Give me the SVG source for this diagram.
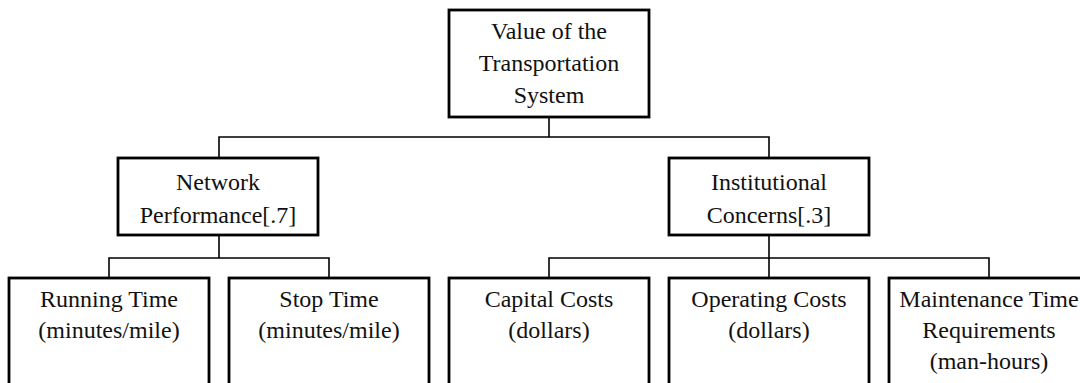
<svg xmlns="http://www.w3.org/2000/svg" width="1080" height="383" viewBox="0 0 1080 383">
  <style>
    .box { fill: #fff; stroke: #000; stroke-width: 2.8; }
    .wire { fill: none; stroke: #000; stroke-width: 1.6; }
    text { font-family: "Liberation Serif", "Times New Roman", serif; font-size: 24px; fill: #111; text-anchor: middle; }
  </style>
  <rect width="1080" height="383" fill="#fff"/>

  <!-- tree connectors -->
  <g id="connectors">
    <path class="wire" d="M549 117 V137 M219 158 V137 H769 V158"/>
    <path class="wire" d="M219 235 V258 M109 278 V258 H329 V278"/>
    <path class="wire" d="M769 235 V258 M549 278 V258 H989 V278 M769 258 V278"/>
  </g>

  <!-- root -->
  <g id="value">
    <rect class="box" x="449" y="10" width="200" height="107"/>
    <text x="549" y="39">Value of the</text>
    <text x="549" y="71">Transportation</text>
    <text x="549" y="103">System</text>
  </g>

  <!-- second level -->
  <g id="network">
    <rect class="box" x="118" y="158" width="200" height="77"/>
    <text x="218" y="190">Network</text>
    <text x="218" y="223">Performance[.7]</text>
  </g>
  <g id="institutional">
    <rect class="box" x="669" y="158" width="200" height="77"/>
    <text x="769" y="190">Institutional</text>
    <text x="769" y="223">Concerns[.3]</text>
  </g>

  <!-- leaf attributes -->
  <g id="running">
    <rect class="box" x="9" y="278" width="200" height="130"/>
    <text x="109" y="307">Running Time</text>
    <text x="109" y="338">(minutes/mile)</text>
  </g>
  <g id="stop">
    <rect class="box" x="229" y="278" width="200" height="130"/>
    <text x="329" y="307">Stop Time</text>
    <text x="329" y="338">(minutes/mile)</text>
  </g>
  <g id="capital">
    <rect class="box" x="449" y="278" width="200" height="130"/>
    <text x="549" y="307">Capital Costs</text>
    <text x="549" y="338">(dollars)</text>
  </g>
  <g id="operating">
    <rect class="box" x="669" y="278" width="200" height="130"/>
    <text x="769" y="307">Operating Costs</text>
    <text x="769" y="338">(dollars)</text>
  </g>
  <g id="maintenance">
    <rect class="box" x="889" y="278" width="200" height="130"/>
    <text x="989" y="307">Maintenance Time</text>
    <text x="989" y="338">Requirements</text>
    <text x="989" y="369">(man-hours)</text>
  </g>
</svg>
